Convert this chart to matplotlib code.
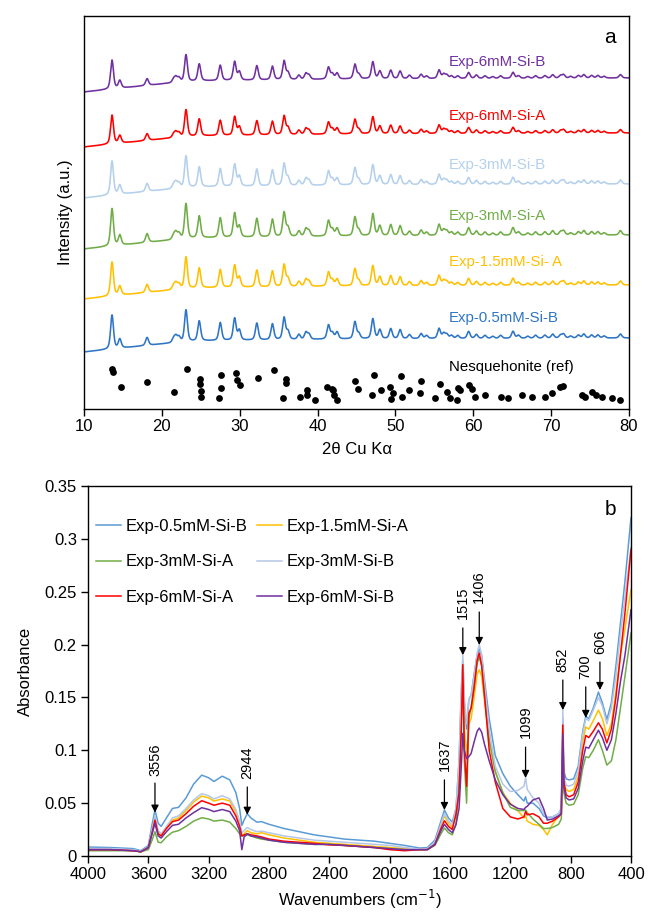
import numpy as np
import matplotlib
matplotlib.use("Agg")
import matplotlib.pyplot as plt
from matplotlib.ticker import FuncFormatter, MultipleLocator

plt.rcParams['font.family'] = ['Liberation Sans', 'DejaVu Sans']

# ---------------- XRD (panel a) ----------------
samples = ["Exp-0.5mM-Si-B", "Exp-1.5mM-Si- A", "Exp-3mM-Si-A",
           "Exp-3mM-Si-B", "Exp-6mM-Si-A", "Exp-6mM-Si-B"]
xrd_colors = ["#2E75C6", "#FFC000", "#70AD47", "#B4D0EC", "#FF0000", "#7030A0"]
xrd_offsets = [71, 124, 174, 225, 276, 331]          # trace level at 80 deg
xrd_scale = [1.0, 1.0, 1.1, 1.0, 0.85, 0.85]          # relative peak strength
xrd_label_y = [91, 147, 193, 244, 293, 347]

# background drift relative to the high-angle level
bg_2theta = [10, 12.5, 20, 25, 45, 80]
bg_level = [-14, -12, -6, -3, -1, 0]

# diffraction peaks: position (2theta) and height
peak_pos = [13.6, 14.6, 18.1, 21.5, 21.8, 22.2, 23.1, 24.8, 27.5, 29.35,
            29.95, 32.2, 34.2, 35.7, 36.2, 37.6, 38.5, 38.9, 41.4, 41.9,
            42.5, 44.8, 45.3, 47.1, 48.0, 49.4, 50.6, 51.8, 53.3, 54.0,
            55.6, 56.2, 56.6, 57.2, 58.0, 59.4, 60.4, 61.5, 62.5, 63.5,
            65.1, 65.8, 67.0, 68.0, 69.2, 70.2, 71.2, 71.6, 72.5, 73.5,
            74.2, 75.2, 76.0, 76.8, 78.9]
peak_h = [34, 9, 8, 4, 6, 5, 32, 20, 18, 22,
          10, 17, 16, 22, 8, 5, 7, 5, 14, 6,
          7, 17, 5, 20, 9, 10, 9, 4, 5, 3,
          10, 5, 4, 3, 3, 7, 4, 3, 2, 3,
          7, 3, 2, 3, 3, 4, 3, 4, 2, 3,
          4, 3, 3, 2, 4]

# reference pattern markers (2theta, plotted level)
ref_2theta = [13.6, 13.7, 14.7, 18.1, 21.6, 23.2, 24.85, 24.9, 25.0, 25.05,
              27.6, 27.6, 27.3, 29.5, 29.6, 30.1, 32.3, 34.4, 35.9, 35.95,
              35.6, 37.7, 38.6, 38.7, 39.7, 41.2, 41.8, 42.0, 42.1, 42.45,
              44.8, 45.2, 46.95, 47.2, 48.2, 49.3, 49.65, 49.4, 50.7, 50.8,
              51.8, 53.3, 53.1, 55.1, 55.7, 56.6, 57.0, 57.9, 58.3, 58.1,
              59.5, 59.8, 60.2, 61.5, 63.6, 64.5, 66.2, 67.5, 69.2, 70.1,
              71.1, 71.5, 73.9, 74.4, 75.2, 75.7, 76.5, 77.8, 78.8]
ref_level = [40, 37, 21.5, 26.7, 17.3, 40, 30, 25, 18, 12.3,
             34, 20.7, 11.3, 35.7, 29, 24, 31.3, 39, 29.5, 26,
             10.7, 12.3, 19, 14, 9, 22.3, 20, 19, 14, 9,
             27.5, 20, 13.5, 34, 18.5, 22.3, 15.7, 9.5, 33, 12.3,
             18.5, 27.5, 16, 10.7, 25, 17.3, 10.7, 9, 19, 20.7,
             24, 19.7, 12.3, 14, 12.3, 10.7, 14, 12.3, 12.3, 15.7,
             22.3, 23, 14, 12, 17.3, 14, 12.3, 10.7, 9]

# ---------------- FTIR (panel b) ----------------
wavenumber = [4000, 3850, 3700, 3650, 3600, 3575, 3556, 3535, 3515, 3480,
              3440, 3400, 3350, 3300, 3246, 3200, 3165, 3110, 3060, 3020,
              2995, 2980, 2965, 2944, 2920, 2880, 2850, 2800, 2700, 2600,
              2500, 2400, 2300, 2200, 2100, 2000, 1900, 1800, 1750, 1700,
              1660, 1637, 1610, 1585,
              1560, 1540, 1525, 1515, 1505, 1490, 1475, 1460, 1440, 1420,
              1406, 1390, 1370, 1340, 1300, 1250, 1200, 1150, 1110, 1099,
              1088, 1050, 1010, 980, 955, 920, 880, 862, 852, 845,
              830, 810, 780, 750, 720, 700, 680, 650, 616, 590,
              560, 530, 500, 470, 440, 400]

abs_05B = [0.0085, 0.008, 0.007, 0.005, 0.01, 0.03, 0.0435, 0.031, 0.028, 0.036,
           0.045, 0.046, 0.055, 0.068, 0.0765, 0.074, 0.0705, 0.0755, 0.072, 0.060,
           0.045, 0.029, 0.034, 0.040, 0.036, 0.032, 0.0325, 0.030, 0.026, 0.023,
           0.020, 0.018, 0.016, 0.015, 0.014, 0.012, 0.010, 0.0075, 0.008, 0.015,
           0.033, 0.0435, 0.036, 0.032,
           0.045, 0.09, 0.155, 0.185, 0.145, 0.12, 0.148, 0.152, 0.172, 0.19,
           0.196, 0.19, 0.165, 0.13, 0.095, 0.078, 0.066, 0.058, 0.052, 0.056,
           0.05, 0.05, 0.045, 0.038, 0.036, 0.037, 0.04, 0.045, 0.13, 0.08,
           0.073, 0.072, 0.073, 0.085, 0.118, 0.132, 0.13, 0.14, 0.155, 0.145,
           0.129, 0.145, 0.18, 0.22, 0.26, 0.32]
abs_15A = [0.006, 0.006, 0.005, 0.004, 0.008, 0.024, 0.036, 0.022, 0.019, 0.027,
           0.034, 0.036, 0.043, 0.051, 0.0567, 0.055, 0.052, 0.054, 0.052, 0.042,
           0.031, 0.019, 0.021, 0.024, 0.022, 0.021, 0.022, 0.020, 0.017, 0.015,
           0.013, 0.012, 0.011, 0.010, 0.009, 0.008, 0.007, 0.006, 0.0065, 0.012,
           0.029, 0.038, 0.031, 0.027,
           0.04, 0.075, 0.13, 0.175, 0.12, 0.095, 0.125, 0.13, 0.15, 0.172,
           0.176, 0.17, 0.145, 0.11, 0.08, 0.06, 0.05, 0.043, 0.036, 0.038,
           0.033, 0.03, 0.029, 0.025, 0.020, 0.03, 0.038, 0.04, 0.12, 0.07,
           0.063, 0.061, 0.063, 0.075, 0.108, 0.122, 0.12, 0.128, 0.138, 0.13,
           0.114, 0.125, 0.155, 0.19, 0.215, 0.252]
abs_3A = [0.005, 0.005, 0.005, 0.004, 0.006, 0.015, 0.023, 0.013, 0.0126, 0.018,
          0.0225, 0.024, 0.028, 0.033, 0.0362, 0.035, 0.033, 0.034, 0.032, 0.026,
          0.021, 0.019, 0.019, 0.020, 0.019, 0.017, 0.016, 0.015, 0.013, 0.012,
          0.011, 0.011, 0.010, 0.009, 0.008, 0.007, 0.006, 0.006, 0.006, 0.010,
          0.021, 0.0265, 0.022, 0.02,
          0.03, 0.07, 0.13, 0.17, 0.09, 0.05, 0.13, 0.14, 0.16, 0.182,
          0.188, 0.18, 0.15, 0.11, 0.08, 0.06, 0.046, 0.043, 0.043, 0.0435,
          0.041, 0.035, 0.03, 0.026, 0.026, 0.027, 0.03, 0.035, 0.11, 0.06,
          0.05, 0.048, 0.049, 0.058, 0.083, 0.094, 0.093, 0.1, 0.11, 0.1,
          0.086, 0.09, 0.11, 0.14, 0.17, 0.211]
abs_3B = [0.007, 0.007, 0.006, 0.0045, 0.009, 0.025, 0.038, 0.024, 0.021, 0.028,
          0.036, 0.038, 0.045, 0.053, 0.059, 0.057, 0.054, 0.057, 0.054, 0.044,
          0.033, 0.022, 0.024, 0.027, 0.025, 0.023, 0.0235, 0.022, 0.019, 0.017,
          0.015, 0.014, 0.013, 0.012, 0.011, 0.010, 0.008, 0.0065, 0.007, 0.013,
          0.030, 0.040, 0.033, 0.029,
          0.045, 0.09, 0.16, 0.19, 0.15, 0.125, 0.148, 0.152, 0.17, 0.192,
          0.2, 0.19, 0.16, 0.12, 0.085, 0.068, 0.061, 0.062, 0.066, 0.074,
          0.063, 0.055, 0.05, 0.04, 0.037, 0.037, 0.04, 0.045, 0.138, 0.075,
          0.067, 0.066, 0.068, 0.08, 0.115, 0.13, 0.128, 0.138, 0.15, 0.142,
          0.125, 0.14, 0.17, 0.21, 0.245, 0.292]
abs_6A = [0.006, 0.006, 0.005, 0.004, 0.008, 0.022, 0.034, 0.021, 0.019, 0.026,
          0.0325, 0.034, 0.040, 0.047, 0.0523, 0.050, 0.048, 0.050, 0.048, 0.038,
          0.028, 0.019, 0.020, 0.021, 0.020, 0.019, 0.018, 0.016, 0.014, 0.013,
          0.012, 0.0105, 0.010, 0.009, 0.008, 0.006, 0.005, 0.006, 0.006, 0.011,
          0.026, 0.0334, 0.028, 0.025,
          0.04, 0.06, 0.12, 0.181, 0.10, 0.066, 0.135, 0.14, 0.16, 0.185,
          0.192, 0.18, 0.15, 0.10, 0.07, 0.045, 0.037, 0.035, 0.037, 0.042,
          0.039, 0.04, 0.037, 0.031, 0.031, 0.033, 0.037, 0.04, 0.124, 0.07,
          0.058, 0.056, 0.058, 0.07, 0.10, 0.114, 0.112, 0.118, 0.126, 0.12,
          0.107, 0.12, 0.15, 0.19, 0.23, 0.29]
abs_6B = [0.006, 0.006, 0.005, 0.004, 0.008, 0.021, 0.031, 0.019, 0.017, 0.023,
          0.029, 0.030, 0.036, 0.041, 0.0457, 0.044, 0.042, 0.044, 0.042, 0.033,
          0.024, 0.006, 0.018, 0.021, 0.019, 0.018, 0.017, 0.015, 0.013, 0.012,
          0.011, 0.011, 0.010, 0.009, 0.008, 0.007, 0.006, 0.006, 0.006, 0.011,
          0.024, 0.030, 0.025, 0.022,
          0.03, 0.045, 0.085, 0.116, 0.10, 0.092, 0.094, 0.097, 0.108, 0.118,
          0.121, 0.117, 0.105, 0.09, 0.072, 0.058, 0.049, 0.045, 0.044, 0.046,
          0.047, 0.053, 0.055, 0.045, 0.034, 0.035, 0.038, 0.04, 0.115, 0.065,
          0.055, 0.053, 0.054, 0.064, 0.09, 0.103, 0.102, 0.11, 0.119, 0.112,
          0.10, 0.11, 0.135, 0.165, 0.19, 0.233]

ftir_series = [
    ("Exp-0.5mM-Si-B", abs_05B, "#5B9BD5"),
    ("Exp-1.5mM-Si-A", abs_15A, "#FFC000"),
    ("Exp-3mM-Si-A", abs_3A, "#70AD47"),
    ("Exp-3mM-Si-B", abs_3B, "#B4C7E7"),
    ("Exp-6mM-Si-A", abs_6A, "#FF0000"),
    ("Exp-6mM-Si-B", abs_6B, "#7030A0"),
]

# band assignments: (wavenumber, arrow tip, arrow tail, label base)
bands = [3556, 2944, 1637, 1515, 1406, 1099, 852, 700, 606]
band_tip = [0.041, 0.039, 0.0435, 0.190, 0.1996, 0.0738, 0.138, 0.1306, 0.157]
band_tail = [0.069, 0.0653, 0.072, 0.2157, 0.2308, 0.103, 0.1665, 0.160, 0.1835]
band_label = [0.0757, 0.0728, 0.0804, 0.224, 0.239, 0.1116, 0.174, 0.1675, 0.191]

# ---------------- figure ----------------
W, H = 649, 915
fig = plt.figure(figsize=(W / 100, H / 100), dpi=100)


def frac(left, top, right, bottom):
    return [left / W, 1 - bottom / H, (right - left) / W, (bottom - top) / H]


# ---- panel a ----
axa = fig.add_axes(frac(84, 16, 629, 409))
x = np.linspace(10, 80, 3501)
hwhm = 0.22
profile = np.zeros_like(x)
for p, h in zip(peak_pos, peak_h):
    u = (x - p) / hwhm
    # pseudo-Voigt line shape (equal Gaussian / Lorentzian share)
    profile += h * (0.5 / (1 + u ** 2) + 0.5 * np.exp(-np.log(2) * u ** 2))
background = np.interp(x, bg_2theta, bg_level)

for name, col, off, sc, ly in zip(samples, xrd_colors, xrd_offsets,
                                  xrd_scale, xrd_label_y):
    axa.plot(x, off + background + sc * profile, color=col, lw=1.15)
    axa.text(56.9, ly, name, color=col, fontsize=10.8, ha='left', va='center')

axa.scatter(ref_2theta, ref_level, s=24, color='black', zorder=3, lw=0)
axa.text(56.9, 42, "Nesquehonite (ref)", color='black', fontsize=10.8,
         ha='left', va='center')
axa.text(0.965, 0.945, "a", transform=axa.transAxes, fontsize=15,
         ha='center', va='center')

axa.set_xlim(10, 80)
axa.set_ylim(0, 393)
axa.set_yticks([])
axa.xaxis.set_major_locator(MultipleLocator(10))
axa.tick_params(axis='x', direction='out', length=5, width=1, labelsize=12,
                pad=2)
axa.set_xlabel("2θ Cu Kα", fontsize=12, labelpad=6)
axa.set_ylabel("Intensity (a.u.)", fontsize=12, labelpad=8)
for s in axa.spines.values():
    s.set_linewidth(1.0)
    s.set_color('black')

# ---- panel b ----
axb = fig.add_axes(frac(88, 486, 631, 856))
lines = {}
for name, vals, col in ftir_series:
    (ln,) = axb.plot(wavenumber, vals, color=col, lw=1.1, label=name)
    lines[name] = ln

for wn, tip, tail, lab in zip(bands, band_tip, band_tail, band_label):
    axb.annotate("", xy=(wn, tip), xytext=(wn, tail),
                 arrowprops=dict(arrowstyle='-|>', color='black', lw=0.9,
                                 mutation_scale=11, shrinkA=0, shrinkB=0))
    axb.text(wn, lab, str(wn), rotation=90, ha='center', va='bottom',
             fontsize=10.5)

order = ["Exp-0.5mM-Si-B", "Exp-3mM-Si-A", "Exp-6mM-Si-A",
         "Exp-1.5mM-Si-A", "Exp-3mM-Si-B", "Exp-6mM-Si-B"]
axb.legend([lines[n] for n in order], order, ncol=2, frameon=False,
           fontsize=12, loc='upper left', bbox_to_anchor=(0.014, 0.912),
           borderaxespad=0, borderpad=0, labelspacing=1.25,
           handlelength=1.5, handletextpad=0.3, columnspacing=0.55)
axb.text(0.962, 0.937, "b", transform=axb.transAxes, fontsize=15,
         ha='center', va='center')

axb.set_xlim(4000, 400)
axb.set_ylim(0, 0.35)
axb.xaxis.set_major_locator(MultipleLocator(400))
axb.yaxis.set_major_locator(MultipleLocator(0.05))
axb.yaxis.set_major_formatter(FuncFormatter(lambda v, _: f"{v:.2f}".rstrip('0').rstrip('.') if v else "0"))
axb.tick_params(direction='out', length=5, width=1, labelsize=12, pad=3)
axb.set_xlabel("Wavenumbers (cm$^{-1}$)", fontsize=12, labelpad=4)
axb.set_ylabel("Absorbance", fontsize=12, labelpad=8)
for s in axb.spines.values():
    s.set_linewidth(1.0)
    s.set_color('black')

fig.savefig("out.png", dpi=100)
